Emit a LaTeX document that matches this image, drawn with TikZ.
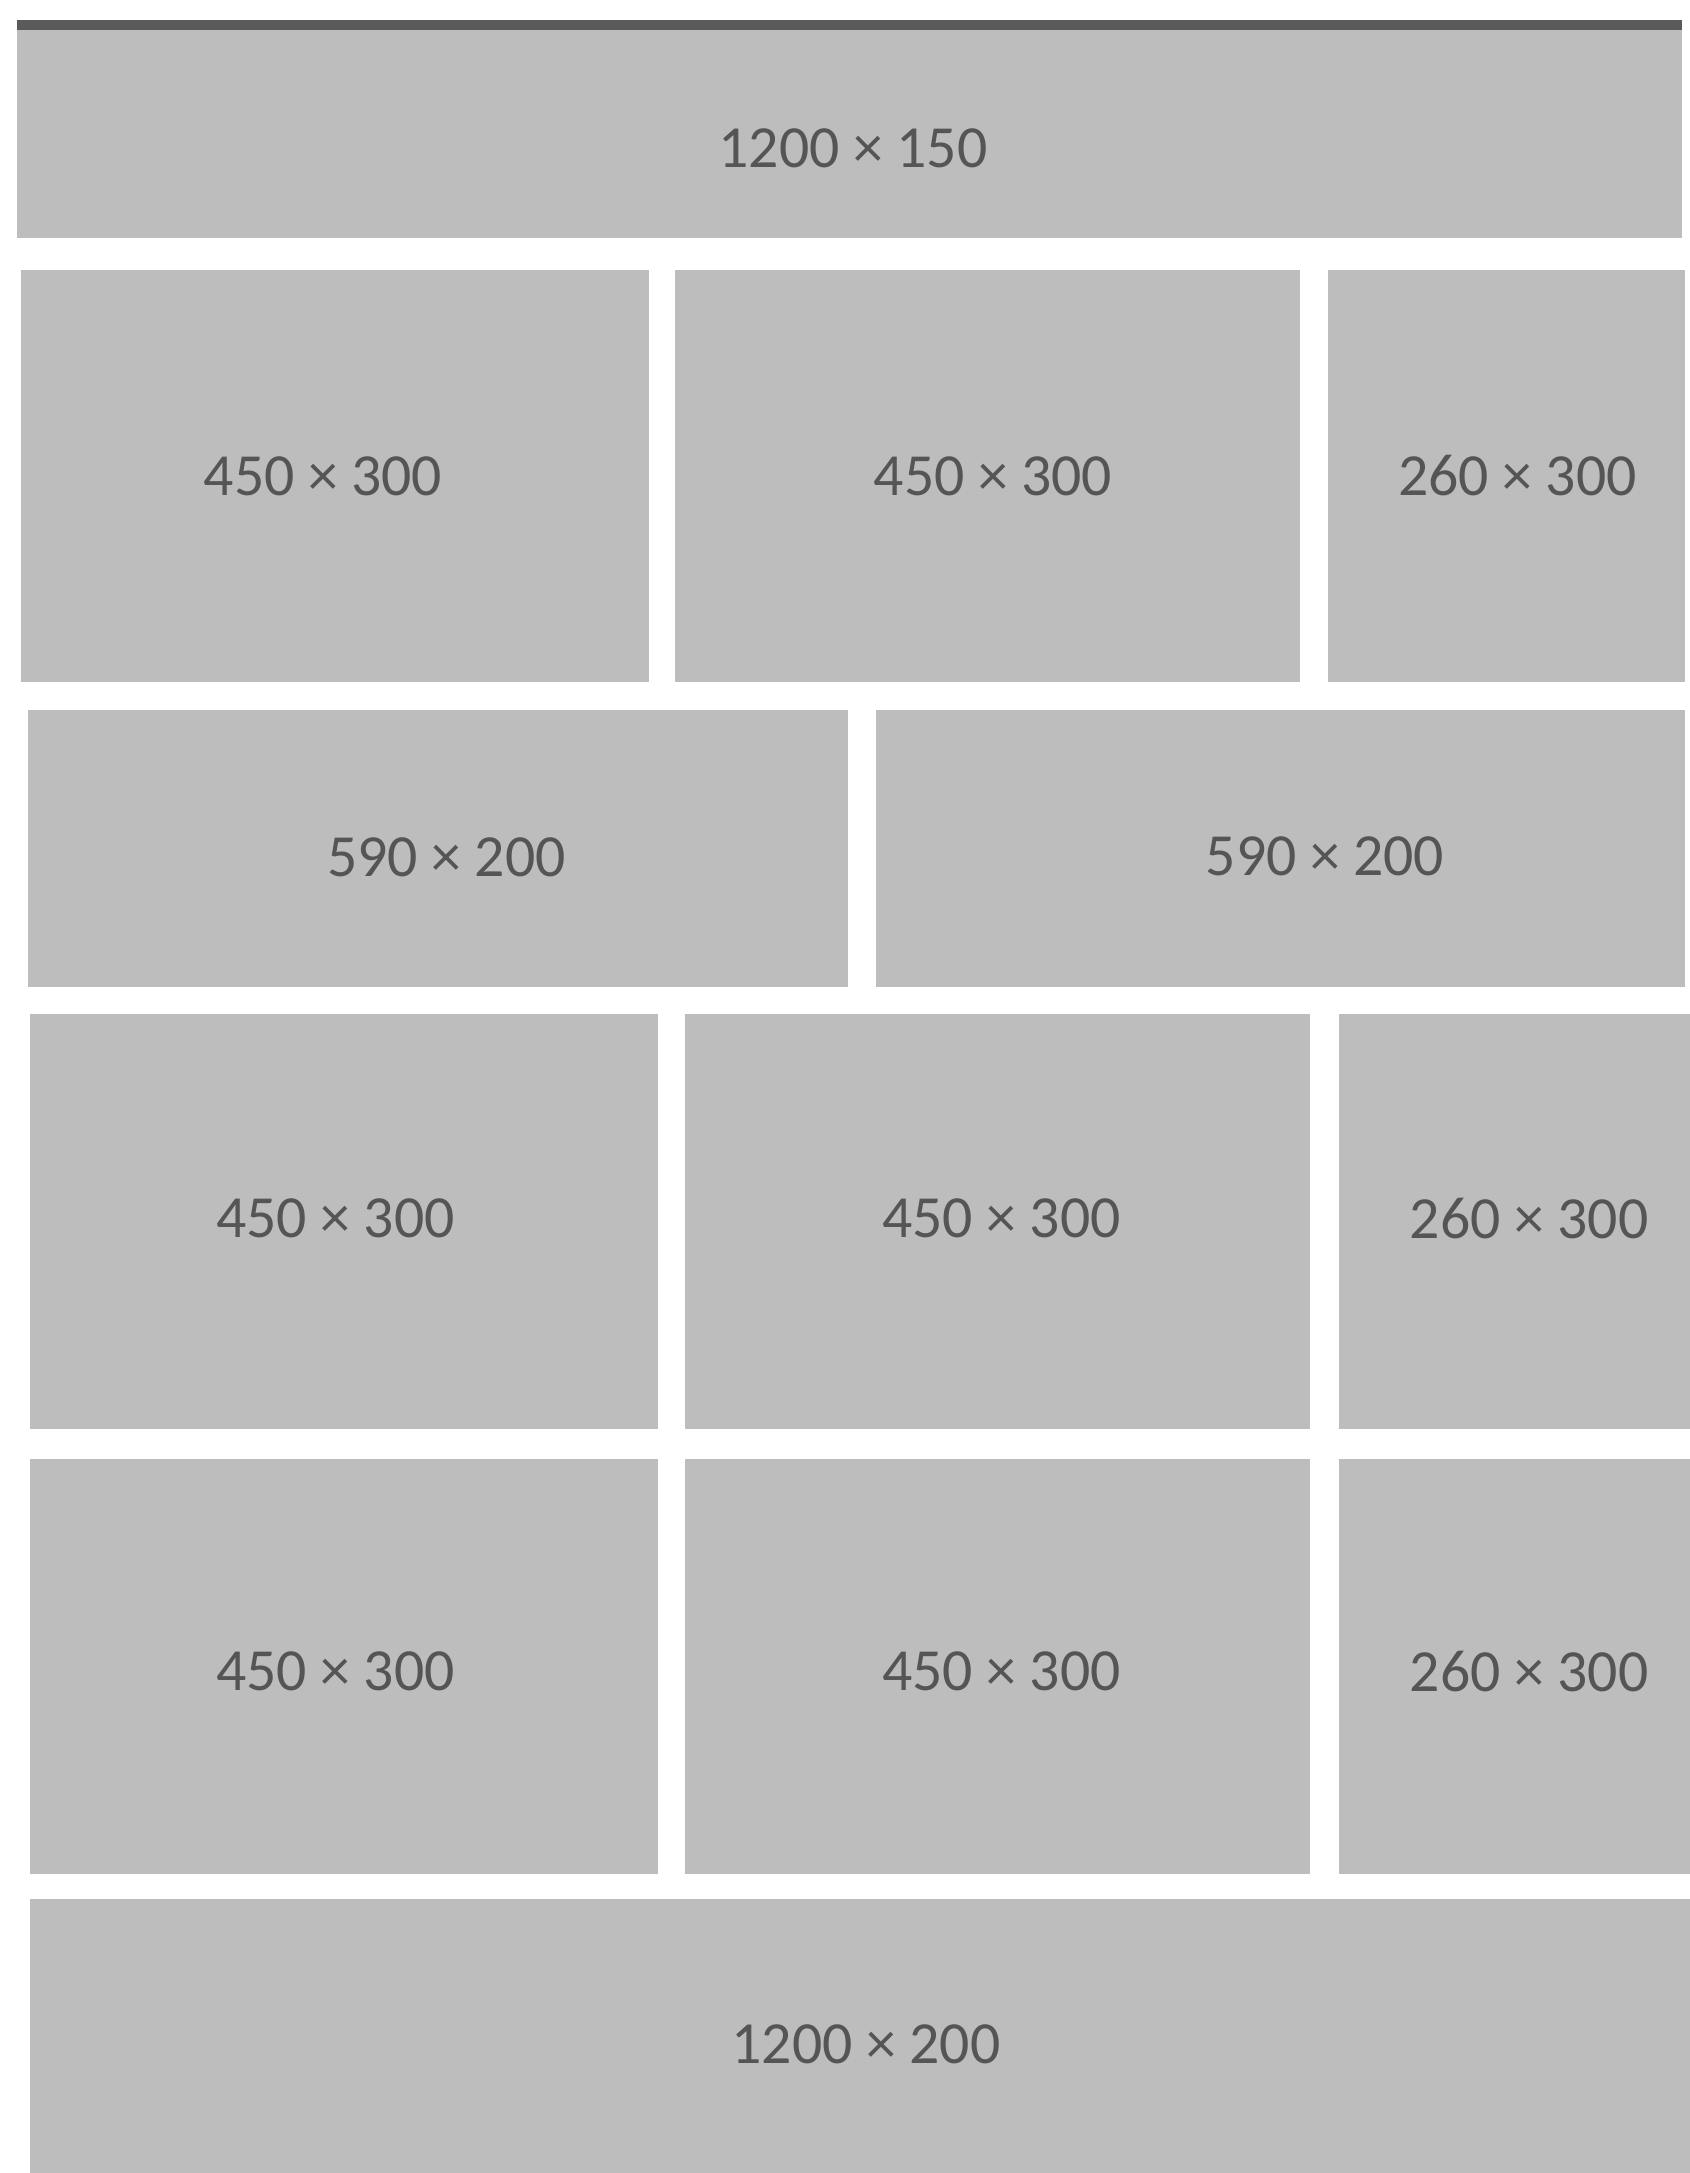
\documentclass[tikz,border=0pt]{standalone}
\usepackage{fontspec}
\setmainfont{Carlito}
\usetikzlibrary{positioning}
\definecolor{cellfill}{HTML}{BDBDBD}
\definecolor{celltext}{HTML}{555555}
\definecolor{topbar}{HTML}{5A5A5A}
\begin{document}
\begin{tikzpicture}[
  cell/.style={fill=cellfill, inner sep=0pt},
  txt/.style={text=celltext, inner sep=0pt, font=\fontsize{34}{40}\selectfont},
  tall/.style={cell, minimum height=8.3cm},
  flat/.style={cell, minimum height=5.5cm},
]
\useasboundingbox (0,0) rectangle (33.8,-43.46);
% header strip
\node[cell, minimum width=33.3cm, minimum height=4.26cm,
  label={[txt, shift={(0.07,-0.34)}]center:1200 × 150}] (hdr) at (16.99,-2.63) {};
\draw[topbar, line width=0.2cm] (hdr.north west) -- (hdr.north east);
% first three-column row
\node[tall, minimum width=12.56cm, minimum height=8.24cm,
  label={[txt, shift={(-0.24,0)}]center:450 × 300}] (r2a) at (6.70,-9.52) {};
\node[tall, minimum width=12.5cm, minimum height=8.24cm,
  label={[txt, shift={(0.11,0)}]center:450 × 300}] (r2b) at (19.75,-9.52) {};
\node[tall, minimum width=7.14cm, minimum height=8.24cm,
  label={[txt, shift={(0.22,0)}]center:260 × 300}] (r2c) at (30.13,-9.52) {};
% two halves
\node[flat, minimum width=16.4cm, minimum height=5.54cm,
  label={[txt, shift={(0.17,-0.17)}]center:590 × 200}] (r3a) at (8.76,-16.97) {};
\node[flat, minimum width=16.18cm, minimum height=5.54cm,
  label={[txt, shift={(0.89,-0.16)}]center:590 × 200}] (r3b) at (25.61,-16.97) {};
% two more three-column rows
\foreach \r/\y/\dy in {r4/-24.42/0.05, r5/-33.32/-0.11} {
  \node[tall, minimum width=12.56cm,
    label={[txt, shift={(-0.17,\dy)}]center:450 × 300}] (\r a) at (6.88,\y) {};
  \node[tall, minimum width=12.5cm,
    label={[txt, shift={(0.08,\dy)}]center:450 × 300}] (\r b) at (19.95,\y) {};
  \node[tall, minimum width=7.02cm,
    label={[txt, shift={(0.29,\dy)}]center:260 × 300}] (\r c) at (30.29,\y) {};
}
% footer strip
\node[flat, minimum width=33.2cm, minimum height=5.48cm,
  label={[txt, shift={(0.12,-0.17)}]center:1200 × 200}] (ftr) at (17.2,-40.72) {};
\end{tikzpicture}
\end{document}
